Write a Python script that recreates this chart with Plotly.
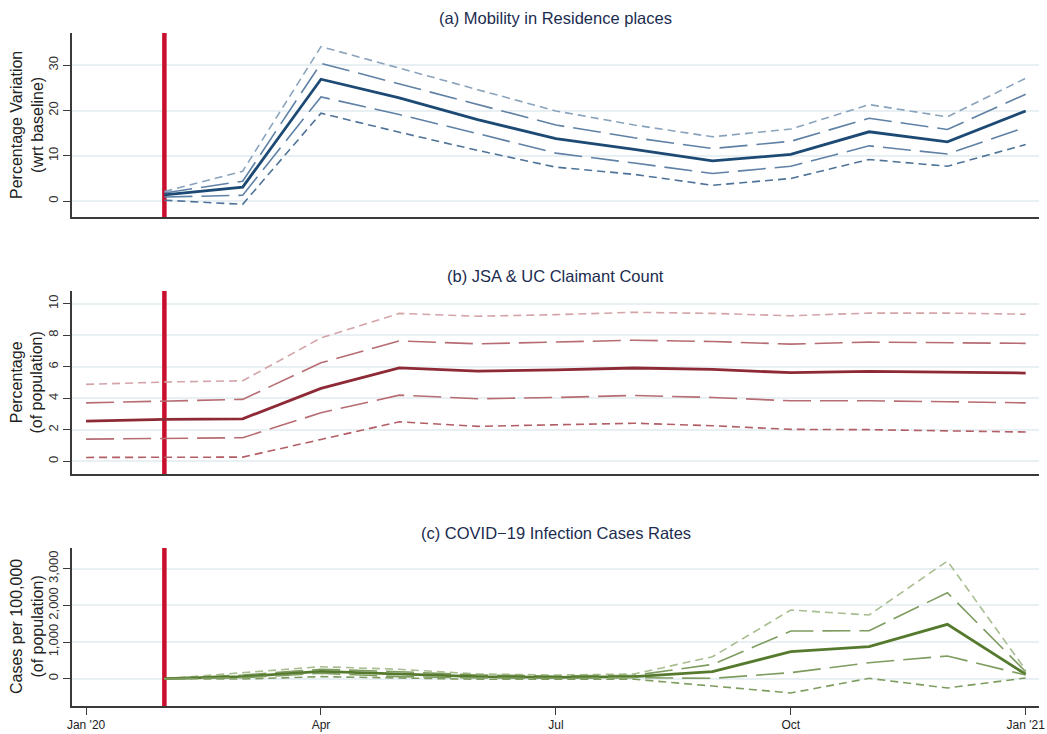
import plotly.graph_objects as go

# Monthly observations, Jan 2020 .. Jan 2021 (plotted on an equally spaced month index)
months = ["2020-01", "2020-02", "2020-03", "2020-04", "2020-05", "2020-06", "2020-07",
          "2020-08", "2020-09", "2020-10", "2020-11", "2020-12", "2021-01"]
tick_months = ["2020-01", "2020-04", "2020-07", "2020-10", "2021-01"]
tick_labels = ["Jan '20", "Apr", "Jul", "Oct", "Jan '21"]
event_month = "2020-02"

# (a) Mobility in residence places, Feb 2020 .. Jan 2021
res_months = months[1:]
res_mean = [1.4, 3.1, 26.9, 22.8, 18.0, 13.8, 11.4, 8.9, 10.3, 15.3, 13.1, 19.9]
res_hi_inner = [1.8, 4.4, 30.4, 25.9, 21.3, 16.8, 14.0, 11.6, 13.2, 18.3, 15.8, 23.6]
res_hi_outer = [2.1, 6.6, 34.1, 29.3, 24.6, 19.9, 16.8, 14.2, 15.9, 21.3, 18.6, 27.1]
res_lo_inner = [0.9, 1.3, 23.0, 19.1, 14.9, 10.6, 8.4, 6.1, 7.7, 12.2, 10.4, 16.3]
res_lo_outer = [0.2, -0.7, 19.4, 15.2, 11.2, 7.5, 5.9, 3.5, 5.0, 9.2, 7.7, 12.5]

# (b) JSA & UC claimant count, Jan 2020 .. Jan 2021
cc_months = months
cc_mean = [2.55, 2.66, 2.70, 4.63, 5.93, 5.72, 5.80, 5.92, 5.83, 5.62, 5.70, 5.66, 5.60]
cc_hi_inner = [3.71, 3.82, 3.93, 6.25, 7.64, 7.45, 7.55, 7.68, 7.60, 7.43, 7.56, 7.54, 7.48]
cc_hi_outer = [4.88, 5.03, 5.11, 7.83, 9.38, 9.20, 9.30, 9.45, 9.38, 9.23, 9.40, 9.40, 9.33]
cc_lo_inner = [1.41, 1.46, 1.50, 3.08, 4.20, 3.97, 4.05, 4.18, 4.05, 3.84, 3.84, 3.78, 3.71]
cc_lo_outer = [0.25, 0.27, 0.27, 1.39, 2.51, 2.22, 2.30, 2.42, 2.26, 2.03, 2.01, 1.94, 1.86]

# (c) COVID-19 cases per 100,000, Feb 2020 .. Jan 2021
cv_months = months[1:]
cv_mean = [0, 55, 200, 120, 55, 38, 55, 190, 736, 873, 1483, 120]
cv_hi_inner = [0, 100, 256, 191, 100, 73, 91, 390, 1300, 1309, 2345, 191]
cv_hi_outer = [0, 164, 327, 256, 128, 100, 128, 600, 1873, 1737, 3210, 237]
cv_lo_inner = [0, 27, 147, 55, 19, 10, 27, 10, 164, 436, 619, 100]
cv_lo_outer = [0, -8, 55, 10, -16, -16, -16, -200, -390, 10, -254, 19]

idx = {m: i for i, m in enumerate(months)}

W, H = 1047, 734
LEFT, RIGHT = 72, 1039
panels = [
    dict(top=33, bottom=217, yrange=[-3.5, 37.1], ticks=[0, 10, 20, 30],
         title="(a) Mobility in Residence places",
         ytitle="Percentage Variation<br>(wrt baseline)",
         x=res_months,
         series=[res_hi_outer, res_hi_inner, res_mean, res_lo_inner, res_lo_outer],
         colors=["#8aa3bd", "#5f81a5", "#1d4a74", "#5f81a5", "#4f7398"]),
    dict(top=291, bottom=474, yrange=[-0.8, 10.8], ticks=[0, 2, 4, 6, 8, 10],
         title="(b) JSA & UC Claimant Count",
         ytitle="Percentage<br>(of population)",
         x=cc_months,
         series=[cc_hi_outer, cc_hi_inner, cc_mean, cc_lo_inner, cc_lo_outer],
         colors=["#d3a4a8", "#b66c72", "#8e2a36", "#b66c72", "#b25e66"]),
    dict(top=548, bottom=706, yrange=[-745, 3565], ticks=[0, 1000, 2000, 3000],
         title="(c) COVID\u221219 Infection Cases Rates",
         ytitle="Cases per 100,000<br>(of population)",
         x=cv_months,
         series=[cv_hi_outer, cv_hi_inner, cv_mean, cv_lo_inner, cv_lo_outer],
         colors=["#a8bd90", "#7f9c60", "#557a2e", "#7f9c60", "#7f9c60"]),
]
dashes = ["8px,5px", "28px,9px", "solid", "28px,9px", "8px,5px"]
widths = [1.6, 1.6, 2.8, 1.6, 1.6]

FONT = "Liberation Sans, Arial, sans-serif"
fig = go.Figure()
layout = dict(
    width=W, height=H, margin=dict(l=0, r=0, t=0, b=0),
    paper_bgcolor="white", plot_bgcolor="white", showlegend=False,
    font=dict(family=FONT, color="#222222"),
    annotations=[],
)

for p_i, p in enumerate(panels):
    n = p_i + 1
    xa = "x" if n == 1 else f"x{n}"
    ya = "y" if n == 1 else f"y{n}"
    # vertical marker for the event month, drawn first so the series sit on top
    fig.add_trace(go.Scatter(
        x=[idx[event_month], idx[event_month]], y=p["yrange"], mode="lines",
        line=dict(color="#c8102e", width=4.5), xaxis=xa, yaxis=ya,
        hoverinfo="skip", cliponaxis=True))
    for vals, col, dash, w in zip(p["series"], p["colors"], dashes, widths):
        fig.add_trace(go.Scatter(
            x=[idx[m] for m in p["x"]], y=vals, mode="lines",
            line=dict(color=col, width=w, dash=dash),
            xaxis=xa, yaxis=ya, hoverinfo="skip"))
    ydom = [1 - p["bottom"] / H, 1 - p["top"] / H]
    last = n == len(panels)
    layout["xaxis" if n == 1 else f"xaxis{n}"] = dict(
        domain=[LEFT / W, RIGHT / W], range=[-0.18, 12.17],
        anchor=ya, showgrid=False, zeroline=False,
        showline=True, linecolor="#3a3a3a", linewidth=1.5,
        tickmode="array", tickvals=[idx[m] for m in tick_months],
        ticktext=tick_labels, showticklabels=last,
        ticks="outside" if last else "", ticklen=7, tickwidth=1, tickcolor="#3a3a3a",
        tickfont=dict(size=12, color="#222222", family=FONT), automargin=False)
    layout["yaxis" if n == 1 else f"yaxis{n}"] = dict(
        domain=ydom, range=p["yrange"], anchor=xa,
        tickmode="array", tickvals=p["ticks"], tickformat=",",
        tickangle=-90, ticks="outside", ticklen=7, tickwidth=1, tickcolor="#3a3a3a",
        tickfont=dict(size=13, color="#333333", family=FONT),
        showgrid=True, gridcolor="#e9f0f3", gridwidth=1.5, zeroline=False,
        showline=True, linecolor="#3a3a3a", linewidth=1.5, automargin=False)
    # panel title
    layout["annotations"].append(dict(
        text=p["title"], xref="paper", yref="paper",
        x=(LEFT + RIGHT) / 2 / W, y=1 - (p["top"] - 15) / H,
        xanchor="center", yanchor="middle", showarrow=False,
        font=dict(size=16.5, color="#1b2c4f", family=FONT)))
    # y-axis title
    layout["annotations"].append(dict(
        text=p["ytitle"], xref="paper", yref="paper",
        x=27 / W, y=1 - (p["top"] + p["bottom"]) / 2 / H,
        xanchor="center", yanchor="middle", showarrow=False, textangle=-90,
        font=dict(size=16, color="#222222", family=FONT)))

fig.update_layout(**layout)
fig.write_html("out.html")
